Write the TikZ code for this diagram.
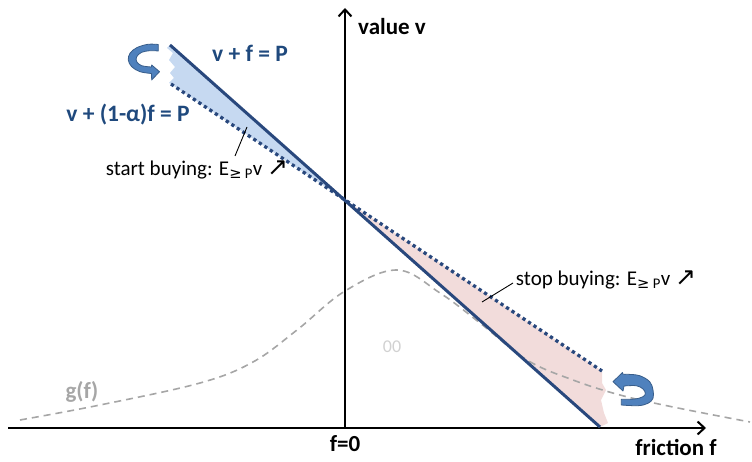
\documentclass[tikz,border=0pt]{standalone}
\usepackage{fontspec}
\setmainfont{Carlito}
\newfontfamily\arrowfont{DejaVu Sans}
\usetikzlibrary{arrows.meta,positioning}

\definecolor{lineblue}{RGB}{41,72,125}
\definecolor{labelblue}{RGB}{31,73,125}
\definecolor{fillblue}{RGB}{198,217,241}
\definecolor{fillpink}{RGB}{242,220,219}
\definecolor{turnblue}{RGB}{79,129,189}
\definecolor{turnedge}{RGB}{56,93,138}
\definecolor{densgray}{RGB}{166,166,166}

\begin{document}
\begin{tikzpicture}[x=1pt, y=-1pt,
    axis/.style={line width=2.2pt, -{Straight Barb[length=7pt,width=13pt,line width=2pt]}},
    budget/.style={lineblue, line width=3pt},
    relaxed/.style={lineblue, line width=3.3pt, dash pattern=on 3.3pt off 3.3pt},
    density/.style={densgray, line width=1.6pt, dash pattern=on 7pt off 5pt},
    axislabel/.style={font=\fontsize{23}{26}\selectfont\bfseries, inner sep=0pt},
    eqlabel/.style={font=\fontsize{23.5}{26}\selectfont\bfseries, text=labelblue, inner sep=0pt},
    note/.style={font=\fontsize{21}{24}\selectfont, inner sep=0pt},
    leader/.style={line width=0.9pt},
    turnarrow/.style={fill=turnblue, draw=turnedge, line width=0.8pt, line join=round}
]
    \useasboundingbox (0,0) rectangle (752,462);

    % key points of the two lines
    \coordinate (A1) at (170,45);   % v + f = P
    \coordinate (A2) at (600,427);
    \coordinate (B1) at (171,84);   % v + (1-alpha) f = P
    \coordinate (B2) at (602,371);
    \coordinate (M) at (345,200);

    % shaded wedges with torn edges
    \fill[fillblue] (A1) -- (M) -- (B1) -- (169,83) -- (174,78) -- (170,73)
        -- (175,67) -- (169,60) -- (173,53) -- (167,48) -- cycle;
    \fill[fillpink] (M) -- (B2) -- (602,383) -- (606,390) -- (601,400)
        -- (604,413) -- (608,423) -- (A2) -- cycle;

    % density g(f)
    \draw[density] plot[smooth, tension=0.6] coordinates {(20,420) (100,405)
        (200,383) (253,362) (297,330) (345,291) (397,270) (440,293) (480,323)
        (527,360) (573,380) (620,395) (673,407) (750,422)};

    % axes
    \coordinate (O) at (345,428);
    \draw[axis] (8,428) -- (706,428);
    \draw[axis] (O) -- (345,8);

    % the two lines
    \draw[budget] (A1) -- (A2);
    \draw[relaxed] (B1) -- (B2);

    % turning arrows
    \filldraw[turnarrow] (158.3,44.5) -- plot[smooth, tension=0.6] coordinates {
        (158.3,44.5) (148,44.3) (136.7,47.7) (130,53.3) (128.3,60) (131.7,66.7)
        (140,71.7) (151.5,73.5)} -- (151.7,80) -- (159.5,71.7) -- (151.7,65)
        -- (151.5,67) -- plot[smooth, tension=0.6] coordinates {(151.5,67)
        (141.7,65.7) (136.7,61.7) (136.7,56.7) (141.7,52.3) (150,50.7)
        (158.3,51)} -- cycle;
    \filldraw[turnarrow] (621.3,405) -- plot[smooth, tension=0.6] coordinates {
        (621.3,405) (638,405.7) (648,403.3) (653,398.3) (653,390) (649.7,381.7)
        (639.7,375.7) (628,374.3) (623,374.3)} -- (622.5,372.5) -- (613,381.7)
        -- (623,391) -- (624,386) -- plot[smooth, tension=0.6] coordinates {
        (624,386) (636.3,385.7) (643,389) (645.3,393.3) (643,396.7) (634.7,399)
        (621.3,399.3)} -- cycle;

    % labels
    \node[axislabel, anchor=west] (vlab) at (358,27) {value v};
    \node[axislabel] (flab) at (676,447) {friction f};
    \node[axislabel] (zero) at (345,444) {f=0};
    \node[eqlabel] (eqA) at (250,53) {v + f = P};
    \node[eqlabel] (eqB) at (128,115) {v + (1-α)f = P};
    \node[axislabel, text=densgray] (gf) at (82,392) {g(f)};
    \node[font=\fontsize{18}{20}\selectfont, text=black!18] (oo) at (392,347) {00};

    \node[note] (start) at (197,170)
        {start buying: E\textsubscript{{\arrowfont ≥} P}v {\arrowfont\fontsize{25}{26}\selectfont ↗}};
    \node[note] (stop) at (606,280)
        {stop buying: E\textsubscript{{\arrowfont ≥} P}v {\arrowfont\fontsize{25}{26}\selectfont ↗}};

    \coordinate (s0) at (235,156);
    \coordinate (s1) at (247,127);
    \draw[leader] (s0) -- (s1);
    \coordinate (t0) at (513,283);
    \coordinate (t1) at (482,302);
    \draw[leader] (t0) -- (t1);
\end{tikzpicture}
\end{document}
